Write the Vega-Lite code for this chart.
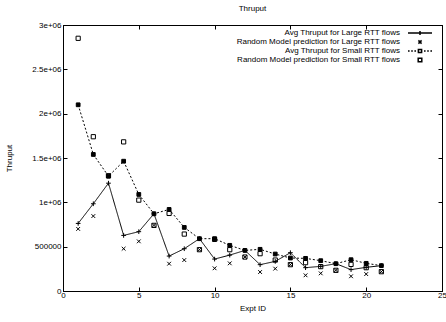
{
  "$schema": "https://vega.github.io/schema/vega-lite/v6.json",
  "width": 379,
  "height": 266,
  "autosize": {"type": "none"},
  "padding": {"left": 63, "top": 25, "right": 4, "bottom": 31},
  "title": {"text": "Thruput", "fontSize": 8, "fontWeight": "normal", "font": "Liberation Sans", "offset": 8, "color": "black"},
  "data": {"values": [
    {"x":1,"v":762000,"series":"Avg Thruput for Large RTT flows"},
    {"x":2,"v":984000,"series":"Avg Thruput for Large RTT flows"},
    {"x":3,"v":1216000,"series":"Avg Thruput for Large RTT flows"},
    {"x":4,"v":627000,"series":"Avg Thruput for Large RTT flows"},
    {"x":5,"v":669000,"series":"Avg Thruput for Large RTT flows"},
    {"x":6,"v":871000,"series":"Avg Thruput for Large RTT flows"},
    {"x":7,"v":394000,"series":"Avg Thruput for Large RTT flows"},
    {"x":8,"v":477000,"series":"Avg Thruput for Large RTT flows"},
    {"x":9,"v":590000,"series":"Avg Thruput for Large RTT flows"},
    {"x":10,"v":360000,"series":"Avg Thruput for Large RTT flows"},
    {"x":11,"v":405000,"series":"Avg Thruput for Large RTT flows"},
    {"x":12,"v":458000,"series":"Avg Thruput for Large RTT flows"},
    {"x":13,"v":297000,"series":"Avg Thruput for Large RTT flows"},
    {"x":14,"v":334000,"series":"Avg Thruput for Large RTT flows"},
    {"x":15,"v":432000,"series":"Avg Thruput for Large RTT flows"},
    {"x":16,"v":263000,"series":"Avg Thruput for Large RTT flows"},
    {"x":17,"v":278000,"series":"Avg Thruput for Large RTT flows"},
    {"x":18,"v":308000,"series":"Avg Thruput for Large RTT flows"},
    {"x":19,"v":241000,"series":"Avg Thruput for Large RTT flows"},
    {"x":20,"v":267000,"series":"Avg Thruput for Large RTT flows"},
    {"x":21,"v":286000,"series":"Avg Thruput for Large RTT flows"},
    {"x":1,"v":700000,"series":"Random Model prediction for Large RTT flows"},
    {"x":2,"v":845000,"series":"Random Model prediction for Large RTT flows"},
    {"x":3,"v":1300000,"series":"Random Model prediction for Large RTT flows"},
    {"x":4,"v":477000,"series":"Random Model prediction for Large RTT flows"},
    {"x":5,"v":560000,"series":"Random Model prediction for Large RTT flows"},
    {"x":6,"v":740000,"series":"Random Model prediction for Large RTT flows"},
    {"x":7,"v":308000,"series":"Random Model prediction for Large RTT flows"},
    {"x":8,"v":349000,"series":"Random Model prediction for Large RTT flows"},
    {"x":9,"v":466000,"series":"Random Model prediction for Large RTT flows"},
    {"x":10,"v":256000,"series":"Random Model prediction for Large RTT flows"},
    {"x":11,"v":312000,"series":"Random Model prediction for Large RTT flows"},
    {"x":12,"v":383000,"series":"Random Model prediction for Large RTT flows"},
    {"x":13,"v":214000,"series":"Random Model prediction for Large RTT flows"},
    {"x":14,"v":252000,"series":"Random Model prediction for Large RTT flows"},
    {"x":15,"v":297000,"series":"Random Model prediction for Large RTT flows"},
    {"x":16,"v":177000,"series":"Random Model prediction for Large RTT flows"},
    {"x":17,"v":199000,"series":"Random Model prediction for Large RTT flows"},
    {"x":18,"v":233000,"series":"Random Model prediction for Large RTT flows"},
    {"x":19,"v":166000,"series":"Random Model prediction for Large RTT flows"},
    {"x":20,"v":191000,"series":"Random Model prediction for Large RTT flows"},
    {"x":21,"v":218000,"series":"Random Model prediction for Large RTT flows"},
    {"x":1,"v":2100000,"series":"Avg Thruput for Small RTT flows"},
    {"x":2,"v":1540000,"series":"Avg Thruput for Small RTT flows"},
    {"x":3,"v":1295000,"series":"Avg Thruput for Small RTT flows"},
    {"x":4,"v":1464000,"series":"Avg Thruput for Small RTT flows"},
    {"x":5,"v":1089000,"series":"Avg Thruput for Small RTT flows"},
    {"x":6,"v":871000,"series":"Avg Thruput for Small RTT flows"},
    {"x":7,"v":920000,"series":"Avg Thruput for Small RTT flows"},
    {"x":8,"v":717000,"series":"Avg Thruput for Small RTT flows"},
    {"x":9,"v":590000,"series":"Avg Thruput for Small RTT flows"},
    {"x":10,"v":590000,"series":"Avg Thruput for Small RTT flows"},
    {"x":11,"v":515000,"series":"Avg Thruput for Small RTT flows"},
    {"x":12,"v":458000,"series":"Avg Thruput for Small RTT flows"},
    {"x":13,"v":470000,"series":"Avg Thruput for Small RTT flows"},
    {"x":14,"v":417000,"series":"Avg Thruput for Small RTT flows"},
    {"x":15,"v":372000,"series":"Avg Thruput for Small RTT flows"},
    {"x":16,"v":368000,"series":"Avg Thruput for Small RTT flows"},
    {"x":17,"v":342000,"series":"Avg Thruput for Small RTT flows"},
    {"x":18,"v":308000,"series":"Avg Thruput for Small RTT flows"},
    {"x":19,"v":353000,"series":"Avg Thruput for Small RTT flows"},
    {"x":20,"v":312000,"series":"Avg Thruput for Small RTT flows"},
    {"x":21,"v":286000,"series":"Avg Thruput for Small RTT flows"},
    {"x":1,"v":2850000,"series":"Random Model prediction for Small RTT flows"},
    {"x":2,"v":1740000,"series":"Random Model prediction for Small RTT flows"},
    {"x":3,"v":1300000,"series":"Random Model prediction for Small RTT flows"},
    {"x":4,"v":1682000,"series":"Random Model prediction for Small RTT flows"},
    {"x":5,"v":1025000,"series":"Random Model prediction for Small RTT flows"},
    {"x":6,"v":740000,"series":"Random Model prediction for Small RTT flows"},
    {"x":7,"v":875000,"series":"Random Model prediction for Small RTT flows"},
    {"x":8,"v":642000,"series":"Random Model prediction for Small RTT flows"},
    {"x":9,"v":466000,"series":"Random Model prediction for Small RTT flows"},
    {"x":10,"v":582000,"series":"Random Model prediction for Small RTT flows"},
    {"x":11,"v":466000,"series":"Random Model prediction for Small RTT flows"},
    {"x":12,"v":383000,"series":"Random Model prediction for Small RTT flows"},
    {"x":13,"v":421000,"series":"Random Model prediction for Small RTT flows"},
    {"x":14,"v":349000,"series":"Random Model prediction for Small RTT flows"},
    {"x":15,"v":297000,"series":"Random Model prediction for Small RTT flows"},
    {"x":16,"v":320000,"series":"Random Model prediction for Small RTT flows"},
    {"x":17,"v":275000,"series":"Random Model prediction for Small RTT flows"},
    {"x":18,"v":233000,"series":"Random Model prediction for Small RTT flows"},
    {"x":19,"v":300000,"series":"Random Model prediction for Small RTT flows"},
    {"x":20,"v":263000,"series":"Random Model prediction for Small RTT flows"},
    {"x":21,"v":218000,"series":"Random Model prediction for Small RTT flows"}
  ]},
  "layer": [
    {
      "transform": [{"filter": "indexof(datum.series, 'Avg') === 0"}],
      "mark": {"type": "line", "color": "black", "strokeWidth": 1},
      "encoding": {
        "x": {"field": "x", "type": "quantitative", "scale": {"domain": [0, 25], "nice": false},
              "axis": {"orient": "bottom", "values": [0,5,10,15,20,25], "title": "Expt ID", "labelPadding": 4, "titlePadding": 5, "labelFlush": false}},
        "y": {"field": "v", "type": "quantitative", "scale": {"domain": [0, 3000000], "nice": false},
              "axis": {"orient": "left", "values": [0,500000,1000000,1500000,2000000,2500000,3000000],
                       "labelExpr": "datum.value >= 1000000 ? (datum.value/1000000) + 'e+06' : '' + datum.value",
                       "title": "Thruput", "labelPadding": 6, "titlePadding": 18}},
        "strokeDash": {"field": "series", "type": "nominal",
                       "scale": {"domain": ["Avg Thruput for Large RTT flows", "Avg Thruput for Small RTT flows"], "range": [[1,0],[2,2]]},
                       "legend": null}
      }
    },
    {
      "mark": {"type": "point", "filled": true, "stroke": "black", "strokeWidth": 1, "size": 22, "opacity": 1},
      "encoding": {
        "x": {"field": "x", "type": "quantitative", "axis": {"orient": "top", "values": [0,5,10,15,20,25], "labels": false, "title": null}},
        "y": {"field": "v", "type": "quantitative", "axis": {"orient": "right", "values": [0,500000,1000000,1500000,2000000,2500000,3000000], "labels": false, "title": null}},
        "shape": {"field": "series", "type": "nominal", "legend": null,
                  "scale": {"domain": ["Avg Thruput for Large RTT flows","Random Model prediction for Large RTT flows","Avg Thruput for Small RTT flows","Random Model prediction for Small RTT flows"],
                            "range": ["M-1,0L1,0M0,-1L0,1", "M-0.8,-0.8L0.8,0.8M-0.8,0.8L0.8,-0.8", "M-0.8,-0.8L0.8,-0.8L0.8,0.8L-0.8,0.8Z", "M-0.9,-0.9L0.9,-0.9L0.9,0.9L-0.9,0.9Z"]}},
        "fill": {"field": "series", "type": "nominal", "legend": null,
                 "scale": {"domain": ["Avg Thruput for Large RTT flows","Random Model prediction for Large RTT flows","Avg Thruput for Small RTT flows","Random Model prediction for Small RTT flows"],
                           "range": ["transparent","transparent","black","transparent"]}}
      }
    },
    {
      "transform": [{"filter": "false"}],
      "mark": {"type": "point", "filled": false, "stroke": "black", "strokeWidth": 1, "size": 25, "opacity": 1},
      "encoding": {
        "x": {"field": "x", "type": "quantitative", "axis": null},
        "y": {"field": "v", "type": "quantitative", "axis": null},
        "shape": {"field": "series", "type": "nominal",
                  "scale": {"domain": ["Avg Thruput for Large RTT flows","Random Model prediction for Large RTT flows","Avg Thruput for Small RTT flows","Random Model prediction for Small RTT flows"],
                            "range": ["M-6,0L6,0M0,-1L0,1", "M-0.8,-0.8L0.8,0.8M-0.8,0.8L0.8,-0.8", "M-6,0L-5.2,0M-4.4,0L-3.6,0M-2.8,0L-2,0M-1.2,0L-0.8,0M0.8,0L1.2,0M2,0L2.8,0M3.6,0L4.4,0M5.2,0L6,0M-0.8,-0.8L0.8,-0.8L0.8,0.8L-0.8,0.8Z", "M-0.9,-0.9L0.9,-0.9L0.9,0.9L-0.9,0.9Z"]},
                  "legend": {
                    "orient": "none", "legendX": 353, "legendY": 4, "title": null, "padding": 0,
                    "labelFont": "Liberation Sans", "labelFontSize": 8, "labelColor": "black",
                    "labelAlign": "right", "labelOffset": -24, "symbolSize": 16, "rowPadding": -1.3,
                    "labelLimit": 0,
                    "encode": {"symbols": {
                      "fill": {"value": {"expr": "datum.value == 'Avg Thruput for Small RTT flows' ? 'black' : 'transparent'"}},
                      "size": {"value": 25},
                      "stroke": {"value": "black"},
                      "strokeWidth": {"value": 1},
                      "opacity": {"value": 1}
                    }}
                  }}
      }
    }
  ],
  "resolve": {"axis": {"x": "independent", "y": "independent"}, "scale": {"shape": "independent"}, "legend": {"shape": "independent"}},
  "config": {
    "view": {"stroke": "black", "strokeWidth": 1},
    "axis": {"labelFont": "Liberation Sans", "labelFontSize": 8, "labelColor": "black",
             "titleFont": "Liberation Sans", "titleFontSize": 8, "titleFontWeight": "normal", "titleColor": "black",
             "grid": false, "tickSize": -4, "tickColor": "black", "tickWidth": 1,
             "domainColor": "black", "domainWidth": 1, "labelOverlap": false, "labelBound": false}
  }
}
